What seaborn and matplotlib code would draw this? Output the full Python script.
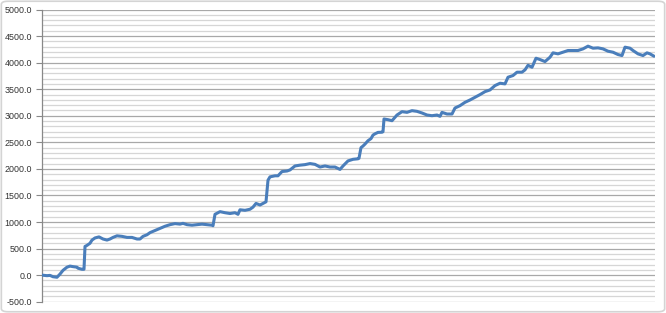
import matplotlib
matplotlib.use("Agg")
import matplotlib.pyplot as plt
import seaborn as sns
import pandas as pd
import numpy as np
from matplotlib.patches import FancyBboxPatch

# trade index (position along the horizontal axis) and cumulative value
trade = [0, 5, 8, 11, 15, 18, 21, 25, 28, 31, 35, 36, 40, 42, 43, 45, 48, 50, 53,
         57, 61, 65, 68, 71, 75, 80, 85, 90, 95, 98, 101, 105, 108, 113, 118, 123,
         128, 133, 138, 141, 145, 150, 155, 160, 165, 170, 171, 173, 178, 183, 188,
         193, 196, 198, 203, 208, 211, 214, 218, 221, 224, 226, 228, 233, 236, 240,
         245, 248, 253, 258, 263, 268, 273, 278, 283, 288, 293, 298, 301, 306, 311,
         316, 317, 319, 321, 323, 326, 329, 331, 333, 336, 340, 341, 342, 346, 350,
         355, 360, 365, 370, 375, 380, 385, 390, 395, 398, 400, 405, 410, 413, 418,
         423, 428, 433, 438, 443, 448, 453, 458, 463, 466, 471, 475, 480, 483, 486,
         490, 494, 498, 503, 508, 511, 516, 521, 526, 531, 536, 541, 546, 551, 556,
         561, 566, 571, 576, 580, 583, 588, 591, 596, 601, 605, 608, 612]
value = [0, -10, -5, -30, -40, 20, 90, 150, 170, 160, 150, 130, 110, 110, 540, 560,
         600, 660, 700, 720, 680, 660, 680, 710, 740, 730, 710, 710, 680, 680, 730,
         760, 800, 840, 880, 920, 950, 970, 960, 975, 950, 940, 950, 960, 950, 940,
         930, 1145, 1195, 1175, 1160, 1175, 1145, 1230, 1220, 1240, 1280, 1350, 1320,
         1350, 1380, 1787, 1850, 1870, 1870, 1950, 1960, 1980, 2055, 2070, 2080, 2100,
         2085, 2035, 2055, 2035, 2035, 1990, 2055, 2150, 2180, 2190, 2200, 2400, 2430,
         2467, 2530, 2570, 2636, 2660, 2687, 2690, 2700, 2939, 2926, 2907, 3014, 3077,
         3064, 3096, 3083, 3052, 3014, 3001, 3014, 2989, 3064, 3033, 3033, 3146, 3190,
         3253, 3297, 3347, 3398, 3454, 3486, 3568, 3612, 3600, 3725, 3757, 3820, 3820,
         3864, 3950, 3913, 4083, 4058, 4020, 4102, 4184, 4165, 4196, 4228, 4228, 4228,
         4259, 4310, 4272, 4278, 4259, 4215, 4196, 4152, 4133, 4291, 4272, 4228, 4165,
         4133, 4184, 4165, 4121]

y_ticks = [-500, 0, 500, 1000, 1500, 2000, 2500, 3000, 3500, 4000, 4500, 5000]
y_tick_labels = [f"{t:.1f}" for t in y_ticks]
minor_step = 100

df = pd.DataFrame({"trade": trade, "value": value})

sns.set_style("white")
plt.rcParams["font.family"] = ["Liberation Sans", "DejaVu Sans"]

fig = plt.figure(figsize=(6.66, 3.13), dpi=100)
ax = fig.add_axes([42 / 666, 1 - 301.7 / 313, (655 - 42) / 666, (301.7 - 9.5) / 313])

# chart-area border
border = FancyBboxPatch((0.002, 0.004), 0.996, 0.992, boxstyle="round,pad=0,rounding_size=0.01",
                        transform=fig.transFigure, facecolor="none", edgecolor="#d4d4d4",
                        linewidth=1.2)
fig.patches.append(border)

# gridlines
for g in np.arange(-500, 5001, minor_step):
    major = (g % 500 == 0)
    ax.axhline(g, color="#a8a8a8" if major else "#d6d6d6", linewidth=0.9, zorder=0)

sns.lineplot(data=df, x="trade", y="value", ax=ax, color="#4a7ebb", linewidth=2.2,
             zorder=3)

ax.set_xlim(0, 613)
ax.set_ylim(-500, 5000)
ax.set_yticks(y_ticks)
ax.set_yticklabels(y_tick_labels, fontsize=6.4, color="#333333")
ax.set_xticks([])
ax.set_xlabel("")
ax.set_ylabel("")
for s in ["top", "right", "bottom"]:
    ax.spines[s].set_visible(False)
ax.spines["left"].set_color("#888888")
ax.spines["left"].set_linewidth(0.9)
ax.tick_params(axis="y", direction="out", length=4, width=0.8, color="#888888", pad=3,
               left=True)

fig.savefig("out.png", dpi=100)
